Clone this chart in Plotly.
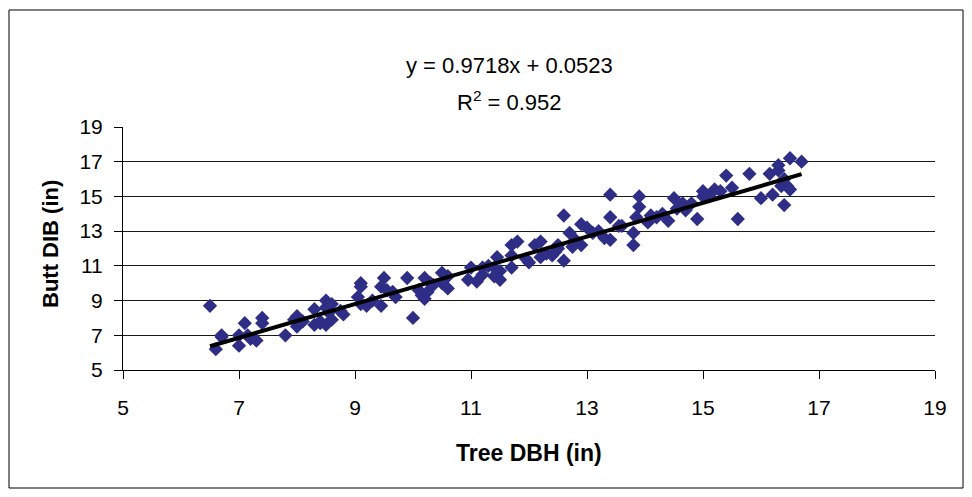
import plotly.graph_objects as go

# Tree DBH (in) vs Butt DIB (in)
dbh = [
    6.5, 6.6, 6.7, 6.7, 7.0, 7.0, 7.1, 7.15, 7.2, 7.3, 7.4, 7.4, 7.8, 7.95, 8.0,
    8.0, 8.1, 8.05, 8.3, 8.5, 8.5, 8.4, 8.5, 8.6, 8.3, 8.55, 8.75, 8.8, 9.1, 9.1,
    9.05, 9.2, 9.1, 9.5, 9.45, 9.45, 9.55, 9.7, 9.65, 9.9, 10.0, 10.2, 10.1, 10.25,
    10.2, 10.15, 10.5, 10.6, 10.5, 10.6, 10.95, 11.0, 11.1, 11.2, 11.2, 11.3, 11.4,
    11.45, 11.5, 11.5, 11.4, 11.7, 11.7, 11.7, 11.8, 12.0, 12.1, 12.2, 12.2, 12.4,
    12.5, 12.6, 12.6, 12.7, 12.75, 12.9, 12.9, 13.0, 13.2, 13.3, 13.4, 13.4, 13.4,
    13.55, 13.8, 13.8, 13.85, 13.9, 13.9, 14.05, 14.1, 14.3, 14.4, 14.5, 14.55,
    14.65, 14.8, 14.9, 15.0, 15.0, 15.2, 15.4, 15.5, 15.6, 15.8, 16.0, 16.15, 16.2,
    16.3, 16.35, 16.4, 16.4, 16.5, 16.5, 16.7,
    8.4, 8.6, 9.3, 10.35, 10.3, 11.95, 12.3, 12.45, 12.8, 13.1, 13.6, 14.2, 14.7,
    15.1, 15.3, 16.45, 16.3, 12.5,
]
dib = [
    8.7, 6.2, 6.9, 7.0, 6.4, 7.0, 7.7, 7.0, 6.8, 6.7, 8.0, 7.7, 7.0, 7.9, 8.1,
    7.5, 7.8, 7.9, 8.5, 9.0, 8.6, 7.7, 7.6, 7.9, 7.6, 8.3, 8.4, 8.2, 10.0, 9.8,
    9.2, 8.7, 8.8, 10.3, 9.8, 8.7, 9.6, 9.2, 9.5, 10.3, 8.0, 10.3, 9.6, 9.5,
    9.1, 9.3, 10.6, 10.4, 10.0, 9.7, 10.2, 10.9, 10.1, 10.5, 10.9, 11.0, 10.9,
    11.5, 10.7, 10.2, 10.4, 12.2, 11.6, 10.9, 12.4, 11.2, 12.2, 12.4, 11.5, 11.6,
    12.0, 11.3, 13.9, 12.9, 12.1, 13.4, 12.2, 13.2, 13.0, 12.6, 15.1, 13.8, 12.5,
    13.3, 12.9, 12.2, 13.8, 15.0, 14.4, 13.5, 13.9, 14.0, 13.6, 14.9, 14.3,
    14.6, 14.6, 13.7, 15.3, 15.0, 15.4, 16.2, 15.5, 13.7, 16.3, 14.9, 16.3, 15.1,
    16.8, 15.6, 14.5, 16.0, 17.2, 15.4, 17.0,
    7.8, 8.8, 9.0, 9.9, 10.0, 11.4, 11.7, 11.8, 12.5, 12.9, 13.3, 13.8, 14.2,
    15.0, 15.3, 15.6, 16.5, 12.2,
]

slope = 0.9718
intercept = 0.0523
r_squared = 0.952

trend_x = [min(dbh), max(dbh)]
trend_y = [slope * v + intercept for v in trend_x]

font_family = "Liberation Sans, Arial, sans-serif"

fig = go.Figure()
fig.add_trace(go.Scatter(
    x=dbh, y=dib, mode="markers",
    marker=dict(symbol="diamond", size=11, color="#2E2E86", line=dict(width=0)),
    showlegend=False,
))
fig.add_trace(go.Scatter(
    x=trend_x, y=trend_y, mode="lines",
    line=dict(color="black", width=4),
    showlegend=False,
))

# page has an 8px body margin, so the figure is sized to fit inside it
fig.update_layout(
    width=956, height=481,
    margin=dict(l=115, r=29, t=119, b=119),
    paper_bgcolor="white", plot_bgcolor="white",
    font=dict(family=font_family, size=21, color="black"),
    xaxis=dict(
        range=[5, 19], tickvals=[5, 7, 9, 11, 13, 15, 17, 19],
        showgrid=False, zeroline=False,
        showline=True, linecolor="black", linewidth=1,
        ticks="outside", ticklen=8, tickcolor="black",
        ticklabelstandoff=11, tickfont=dict(size=21),
    ),
    yaxis=dict(
        range=[5, 19], tickvals=[5, 7, 9, 11, 13, 15, 17, 19],
        showgrid=True, gridcolor="#1a1a1a", gridwidth=1, zeroline=False,
        showline=True, linecolor="black", linewidth=1,
        ticks="outside", ticklen=8, tickcolor="black",
        ticklabelstandoff=7, tickfont=dict(size=21),
    ),
    shapes=[dict(
        type="rect", xref="paper", yref="paper",
        x0=-0.1404, x1=1.0345, y0=-0.4856, y1=1.4815,
        line=dict(color="black", width=1), fillcolor="rgba(0,0,0,0)",
    )],
    annotations=[
        dict(text=f"y = {slope}x + {intercept}", xref="paper", yref="paper",
             x=0.4766, y=1.255, showarrow=False, xanchor="center", yanchor="middle",
             font=dict(size=22)),
        dict(text=f"R<sup>2</sup> = {r_squared}", xref="paper", yref="paper",
             x=0.4766, y=1.108, showarrow=False, xanchor="center", yanchor="middle",
             font=dict(size=22)),
        dict(text="<b>Tree DBH (in)</b>", xref="paper", yref="paper",
             x=0.5, y=-0.3416, showarrow=False, xanchor="center", yanchor="middle",
             font=dict(size=23)),
        dict(text="<b>Butt DIB (in)</b>", xref="paper", yref="paper",
             x=-0.0899, y=0.5185, showarrow=False, xanchor="center", yanchor="middle",
             textangle=-90, font=dict(size=22)),
    ],
)

fig.write_html("out.html")
